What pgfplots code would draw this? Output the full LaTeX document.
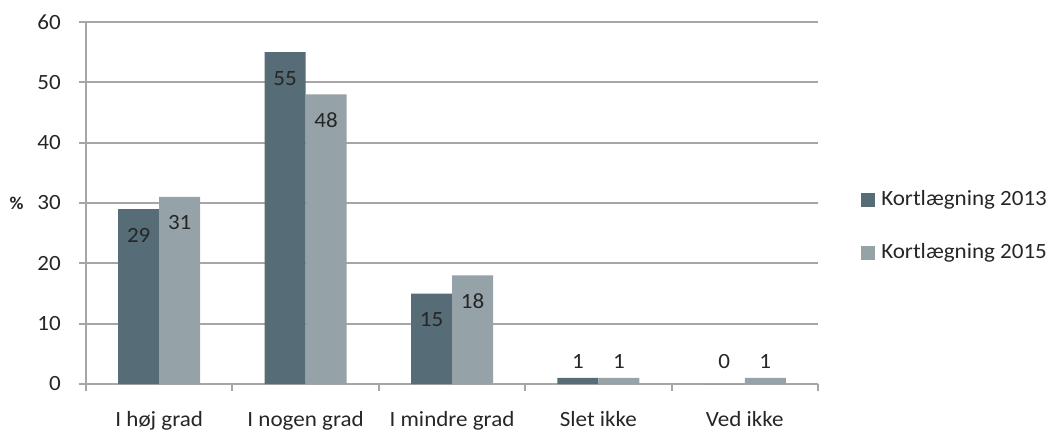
\documentclass[border=0pt]{standalone}
\usepackage{pgfplots}
\pgfplotsset{compat=1.18}
\usepackage{pgfplotstable}
\usepackage{fontspec}
\setmainfont{Carlito}[FakeStretch=1.06]

\definecolor{dark}{HTML}{566C76}
\definecolor{light}{HTML}{95A2A8}
\definecolor{gridc}{HTML}{A6A6A6}
\definecolor{txt}{HTML}{262626}

% x = category, y = value, dy = label offset (pt)
\pgfplotstableread{
x y dy
0 29 -19.5
1 55 -19.5
2 15 -19.5
3 1 12
4 0 16.5
}\kortA
\pgfplotstableread{
x y dy
0 31 -19.5
1 48 -19.5
2 18 -19.5
3 1 12
4 1 12
}\kortB

\begin{document}
\fontsize{16.3}{19.5}\selectfont
\begin{tikzpicture}
\begin{axis}[
    scale only axis,
    width=549pt,
    height=271.5pt,
    ybar=0pt,
    bar width=30.75pt,
    xmin=-0.5, xmax=4.5,
    ymin=0, ymax=60,
    ytick={0,10,...,60},
    xtick={-0.5,0.5,...,4.5},
    x tick label as interval,
    xticklabels={I høj grad,I nogen grad,I mindre grad,Slet ikke,Ved ikke},
    axis x line*=bottom,
    axis y line*=left,
    axis line style={gridc, line width=1.4pt},
    tick align=outside,
    major tick length=5.25pt,
    tick style={gridc, line width=1.4pt},
    ymajorgrids,
    major grid style={gridc, line width=1.4pt},
    /pgf/number format/assume math mode=true,
    tick label style={font=\fontsize{16.3}{19.5}\selectfont, text=txt},
    xticklabel style={anchor=base, inner sep=0pt, yshift=-26.25pt},
    yticklabel style={anchor=east, inner sep=0pt, xshift=-13.5pt},
    ylabel={\%},
    every axis y label/.style={at={(axis description cs:0,0.5)}, anchor=center,
        xshift=-52pt, font=\bfseries\fontsize{13.5}{16}\selectfont, text=txt},
    legend style={draw=none, fill=none, inner sep=0pt,
        at={(axis description cs:1,0.436)}, anchor=west, xshift=32.25pt,
        row sep=26pt, column sep=4.5pt, font=\fontsize{16.3}{19.5}\selectfont, text=txt,
        nodes={inner sep=0pt, anchor=west}},
    legend cell align=left,
    legend image code/.code={\fill[#1] (0pt,-5.25pt) rectangle (10.5pt,5.25pt);},
    nodes near coords,
    visualization depends on={\thisrow{dy} \as \dy},
    every node near coord/.append style={anchor=center, yshift=\dy pt,
        font=\fontsize{16.3}{19.5}\selectfont, text=txt},
]
\addplot[fill=dark, draw=none] table[x=x, y=y] {\kortA};
\addplot[fill=light, draw=none] table[x=x, y=y] {\kortB};
\legend{Kortlægning 2013, Kortlægning 2015}
\end{axis}
\path ([shift={(-64.5pt,-31.5pt)}]current axis.south west) rectangle ([shift={(179.25pt,16.5pt)}]current axis.north east);
\end{tikzpicture}
\end{document}
